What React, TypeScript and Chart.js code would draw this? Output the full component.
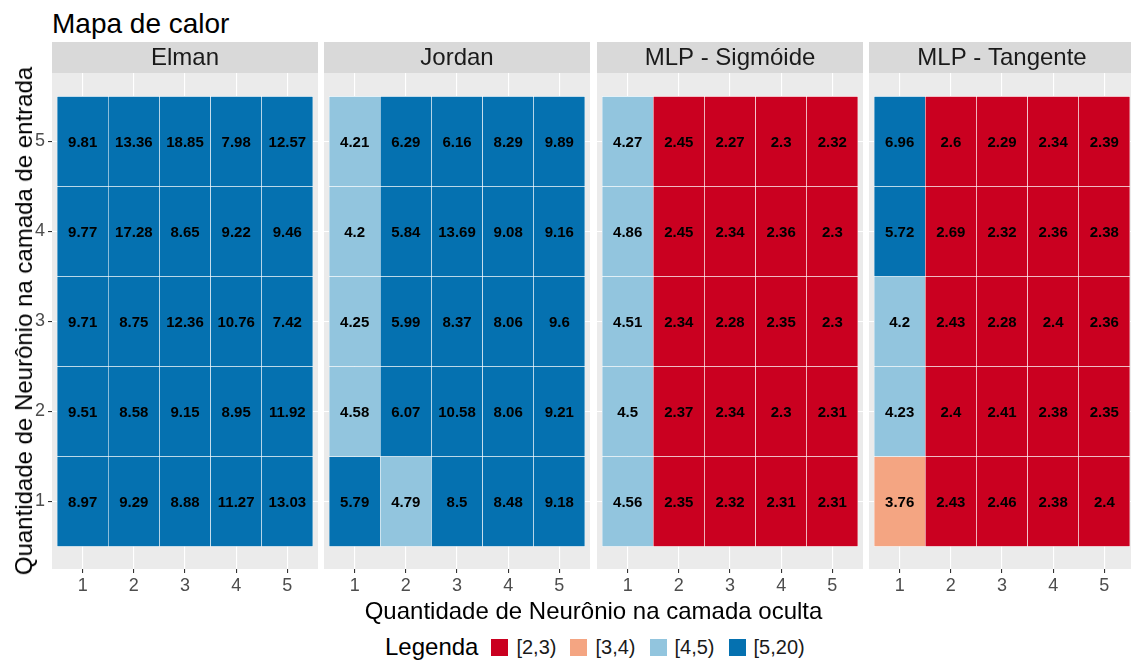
import React, { useEffect, useRef } from 'react';
import { Chart, registerables } from 'chart.js';

Chart.register(...registerables);

const FONT = '"Liberation Sans", Arial, sans-serif';

const chartTitle = 'Mapa de calor';
const xAxisTitle = 'Quantidade de Neurônio na camada oculta';
const yAxisTitle = 'Quantidade de Neurônio na camada de entrada';
const legendTitle = 'Legenda';

const models = ['Elman', 'Jordan', 'MLP - Sigmóide', 'MLP - Tangente'];
const hiddenLayer = [1, 2, 3, 4, 5];
const inputLayer = [1, 2, 3, 4, 5];

// rows: input layer 1..5, columns: hidden layer 1..5
const elmanValues = [
  [8.97, 9.29, 8.88, 11.27, 13.03],
  [9.51, 8.58, 9.15, 8.95, 11.92],
  [9.71, 8.75, 12.36, 10.76, 7.42],
  [9.77, 17.28, 8.65, 9.22, 9.46],
  [9.81, 13.36, 18.85, 7.98, 12.57],
];
const jordanValues = [
  [5.79, 4.79, 8.5, 8.48, 9.18],
  [4.58, 6.07, 10.58, 8.06, 9.21],
  [4.25, 5.99, 8.37, 8.06, 9.6],
  [4.2, 5.84, 13.69, 9.08, 9.16],
  [4.21, 6.29, 6.16, 8.29, 9.89],
];
const mlpSigmoidValues = [
  [4.56, 2.35, 2.32, 2.31, 2.31],
  [4.5, 2.37, 2.34, 2.3, 2.31],
  [4.51, 2.34, 2.28, 2.35, 2.3],
  [4.86, 2.45, 2.34, 2.36, 2.3],
  [4.27, 2.45, 2.27, 2.3, 2.32],
];
const mlpTangentValues = [
  [3.76, 2.43, 2.46, 2.38, 2.4],
  [4.23, 2.4, 2.41, 2.38, 2.35],
  [4.2, 2.43, 2.28, 2.4, 2.36],
  [5.72, 2.69, 2.32, 2.36, 2.38],
  [6.96, 2.6, 2.29, 2.34, 2.39],
];

const binBreaks = [2, 3, 4, 5, 20];
const binLabels = ['[2,3)', '[3,4)', '[4,5)', '[5,20)'];
const binColors = ['#CA0020', '#F4A582', '#92C5DE', '#0571B0'];

const modelValues = [elmanValues, jordanValues, mlpSigmoidValues, mlpTangentValues];

const panelLefts = [52, 324, 597, 869];
const PANEL_W = 266;
const STRIP_TOP = 42;
const STRIP_H = 31;
const PANEL_BOTTOM = 569;
const XAXIS_H = 31;
const YAXIS_W = 52;

function binIndex(v: number) {
  for (let i = 0; i < binBreaks.length - 1; i++) {
    if (v >= binBreaks[i] && v < binBreaks[i + 1]) return i;
  }
  return binBreaks.length - 2;
}

function makePlugin(label: string) {
  return {
    id: 'facetDecor',
    beforeDraw(chart: any) {
      const { ctx, chartArea: a } = chart;
      ctx.save();
      ctx.fillStyle = '#EBEBEB';
      ctx.fillRect(a.left, a.top, a.right - a.left, a.bottom - a.top);
      ctx.fillStyle = '#D9D9D9';
      ctx.fillRect(a.left, 0, a.right - a.left, a.top);
      ctx.fillStyle = '#1A1A1A';
      ctx.font = `24px ${FONT}`;
      ctx.textAlign = 'center';
      ctx.textBaseline = 'middle';
      ctx.fillText(label, (a.left + a.right) / 2, a.top / 2 + 1);
      ctx.restore();
    },
    afterDatasetsDraw(chart: any) {
      const { ctx } = chart;
      const meta = chart.getDatasetMeta(0);
      const data = chart.data.datasets[0].data as any[];
      ctx.save();
      ctx.fillStyle = '#000000';
      ctx.font = `bold 15px ${FONT}`;
      ctx.textAlign = 'center';
      ctx.textBaseline = 'middle';
      meta.data.forEach((el: any, i: number) => {
        const p = el.getCenterPoint();
        ctx.fillText(String(data[i].v), p.x, p.y + 1);
      });
      ctx.restore();
    },
  };
}

function Panel({ index }: { index: number }) {
  const ref = useRef<HTMLCanvasElement>(null);
  const showY = index === 0;
  const left = showY ? 0 : panelLefts[index];
  const width = showY ? panelLefts[0] + PANEL_W : PANEL_W;
  const height = PANEL_BOTTOM + XAXIS_H - STRIP_TOP;

  useEffect(() => {
    const values = modelValues[index];
    const points: any[] = [];
    const colors: string[] = [];
    inputLayer.forEach((yv, r) => {
      hiddenLayer.forEach((xv, c) => {
        const v = values[r][c];
        points.push({ x: xv, y: [yv - 0.5, yv + 0.5], v });
        colors.push(binColors[binIndex(v)]);
      });
    });
    const chart = new Chart(ref.current as HTMLCanvasElement, {
      type: 'bar',
      data: {
        datasets: [
          {
            data: points,
            backgroundColor: colors,
            borderColor: '#FFFFFF',
            borderWidth: 0.6,
            borderSkipped: false,
            categoryPercentage: 1,
            barPercentage: 1,
          } as any,
        ],
      },
      options: {
        responsive: false,
        animation: false,
        devicePixelRatio: 1,
        layout: { padding: { top: STRIP_H, left: 0, right: 0, bottom: 0 } },
        plugins: { legend: { display: false }, tooltip: { enabled: false }, title: { display: false } },
        scales: {
          x: {
            type: 'linear',
            offset: false,
            min: 0.4,
            max: 5.6,
            afterBuildTicks: (s: any) => {
              s.ticks = hiddenLayer.map((v) => ({ value: v }));
            },
            afterFit: (s: any) => {
              s.height = XAXIS_H;
            },
            grid: { offset: false, color: '#FFFFFF', lineWidth: 1.1, tickColor: '#333333', tickLength: 4, drawTicks: true },
            border: { display: false },
            ticks: {
              color: '#4D4D4D',
              font: { family: FONT, size: 18 },
              padding: 2,
              autoSkip: false,
              maxRotation: 0,
              callback: (v: any) => String(v),
            },
          },
          y: {
            type: 'linear',
            offset: false,
            min: 0.25,
            max: 5.76,
            afterBuildTicks: (s: any) => {
              s.ticks = inputLayer.map((v) => ({ value: v }));
            },
            afterFit: (s: any) => {
              s.width = showY ? YAXIS_W : 0;
            },
            grid: { offset: false, color: '#FFFFFF', lineWidth: 1.1, tickColor: '#333333', tickLength: 4, drawTicks: showY },
            border: { display: false },
            ticks: {
              display: showY,
              color: '#4D4D4D',
              font: { family: FONT, size: 18 },
              padding: 3,
              callback: (v: any) => String(v),
            },
          },
        },
      } as any,
      plugins: [makePlugin(models[index]) as any],
    });
    return () => chart.destroy();
  }, [index]);

  return (
    <canvas
      ref={ref}
      width={width}
      height={height}
      style={{ position: 'absolute', left, top: STRIP_TOP, width, height, display: 'block' }}
    />
  );
}

export default function App() {
  return (
    <div
      style={{
        position: 'absolute',
        left: 0,
        top: 0,
        width: 1131,
        height: 662,
        overflow: 'hidden',
        background: '#FFFFFF',
        fontFamily: FONT,
        color: '#000000',
      }}
    >
      <div style={{ position: 'absolute', left: 52, top: 10, fontSize: 28, lineHeight: '28px', whiteSpace: 'nowrap' }}>
        {chartTitle}
      </div>
      {models.map((m, i) => (
        <Panel key={m} index={i} />
      ))}
      <div
        style={{
          position: 'absolute',
          left: panelLefts[0],
          width: panelLefts[3] + PANEL_W - panelLefts[0],
          top: 599,
          fontSize: 24,
          lineHeight: '24px',
          textAlign: 'center',
          whiteSpace: 'nowrap',
        }}
      >
        {xAxisTitle}
      </div>
      <div
        style={{
          position: 'absolute',
          left: 24,
          top: 321,
          fontSize: 24,
          lineHeight: '24px',
          whiteSpace: 'nowrap',
          transform: 'translate(-50%, -50%) rotate(-90deg)',
        }}
      >
        {yAxisTitle}
      </div>
      <div
        style={{
          position: 'absolute',
          left: 385,
          top: 635,
          height: 24,
          display: 'flex',
          alignItems: 'center',
          whiteSpace: 'nowrap',
        }}
      >
        <span style={{ fontSize: 24, lineHeight: '24px', marginRight: 13 }}>{legendTitle}</span>
        {binLabels.map((lab, i) => (
          <React.Fragment key={lab}>
            <span style={{ display: 'inline-block', width: 17, height: 17, background: binColors[i], marginRight: 8 }} />
            <span style={{ fontSize: 20, lineHeight: '24px', color: '#1A1A1A', marginRight: 14 }}>{lab}</span>
          </React.Fragment>
        ))}
      </div>
    </div>
  );
}
